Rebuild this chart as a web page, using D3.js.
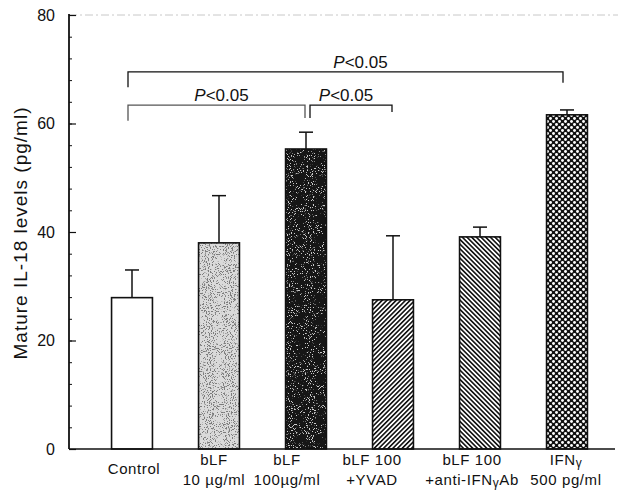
<!DOCTYPE html>
<html>
<head>
<meta charset="utf-8">
<script src="https://cdn.jsdelivr.net/npm/d3@7"></script>
<style>
  html, body { margin: 0; padding: 0; background: #fff; }
  svg { display: block; font-family: "Liberation Sans", Arial, Helvetica, sans-serif; }
</style>
</head>
<body>
<svg id="chart" width="626" height="493"></svg>
<script>
// ---------------- data ----------------
const categories = ["Control", "bLF10", "bLF100", "YVAD", "antiIFN", "IFN"];
const labelLine1 = ["Control", "bLF", "bLF", "bLF 100", "bLF 100", "IFNγ"];
const labelLine2 = ["", "10 µg/ml", "100µg/ml", "+YVAD", "+anti-IFNγAb", "500 pg/ml"];
const means  = [27.9, 38.0, 55.3, 27.5, 39.1, 61.6];
const errors = [5.1, 8.7, 3.1, 11.8, 1.8, 0.9];
const yTicks = [0, 20, 40, 60, 80];
const yMinorTicks = d3.range(0, 81, 4);
const comparisons = [
  { a: 0, b: 5, level: 69.5, endA: 66.7, endB: 67.5, label: "<0.05" },
  { a: 0, b: 2, level: 63.4, endA: 60.5, endB: 61.0, label: "<0.05" },
  { a: 2, b: 3, level: 63.4, endA: 61.0, endB: 62.1, label: "<0.05" }
];
const yTitle = "Mature IL-18 levels (pg/ml)";

// ---------------- layout ----------------
const fills = ["#fff", null, null, "url(#hatchFwd)", "url(#hatchBack)", "url(#checker)"];
const labelDx = [2, -5, -19, -21, -8, -1];
const bracketDx = [[-4, -4], [-4, -1], [4, -1]];
const labelShift = [15, 5, -5];
const xFont = 15;

const svg = d3.select("#chart");
const x = d3.scaleBand().domain(categories).range([88.5, 610.5]).paddingInner(0.53).paddingOuter(0.265);
const y = d3.scaleLinear().domain([0, 80]).range([449, 15]);
const cx = i => x(categories[i]) + x.bandwidth() / 2;

// ---------------- patterns ----------------
const defs = svg.append("defs");
function noiseFilter(id, seed, freq, slope, offset, color) {
  const f = defs.append("filter").attr("id", id)
    .attr("x", 0).attr("y", 0).attr("width", 1).attr("height", 1)
    .attr("filterUnits", "objectBoundingBox");
  f.append("feTurbulence").attr("type", "fractalNoise").attr("baseFrequency", freq)
    .attr("numOctaves", 2).attr("seed", seed).attr("result", "n");
  const c = d3.color(color);
  f.append("feColorMatrix").attr("in", "n").attr("type", "matrix")
    .attr("values", `0 0 0 0 ${c.r/255} 0 0 0 0 ${c.g/255} 0 0 0 0 ${c.b/255} ${slope} 0 0 0 ${offset}`)
    .attr("result", "dots");
  f.append("feComposite").attr("in", "dots").attr("in2", "SourceGraphic").attr("operator", "in");
}
noiseFilter("noiseLight", 4, 0.95, 14, -7.9, "#333");
noiseFilter("noiseDark", 7, 0.95, 14, -8.6, "#999");

const hf = defs.append("pattern").attr("id", "hatchFwd").attr("patternUnits", "userSpaceOnUse")
  .attr("width", 3.3).attr("height", 10).attr("patternTransform", "rotate(45)");
hf.append("rect").attr("width", 3.3).attr("height", 10).attr("fill", "#fff");
hf.append("rect").attr("width", 1.6).attr("height", 10).attr("fill", "#111");
const hb = defs.append("pattern").attr("id", "hatchBack").attr("patternUnits", "userSpaceOnUse")
  .attr("width", 3.3).attr("height", 10).attr("patternTransform", "rotate(-45)");
hb.append("rect").attr("width", 3.3).attr("height", 10).attr("fill", "#fff");
hb.append("rect").attr("width", 1.6).attr("height", 10).attr("fill", "#111");
const ck = defs.append("pattern").attr("id", "checker").attr("patternUnits", "userSpaceOnUse")
  .attr("width", 6).attr("height", 6);
ck.append("rect").attr("width", 6).attr("height", 6).attr("fill", "#111");
ck.append("circle").attr("cx", 1.5).attr("cy", 1.5).attr("r", 1.45).attr("fill", "#fff");
ck.append("circle").attr("cx", 4.5).attr("cy", 4.5).attr("r", 1.45).attr("fill", "#fff");

// ---------------- frame ----------------
svg.append("line").attr("x1", 69).attr("x2", 618).attr("y1", y(80)).attr("y2", y(80))
  .attr("stroke", "#c8c8c8").attr("stroke-width", 1).attr("stroke-dasharray", "8,3,2,3");

// ---------------- bars ----------------
const g = svg.append("g");
means.forEach((m, i) => {
  const x0 = x(categories[i]), w = x.bandwidth();
  const h = y(0) - y(m);
  if (i === 1 || i === 2) {
    g.append("rect").attr("x", x0).attr("y", y(m)).attr("width", w).attr("height", h)
      .attr("fill", i === 1 ? "#dadada" : "#161616");
    g.append("rect").attr("x", x0).attr("y", y(m)).attr("width", w).attr("height", h)
      .attr("fill", "#fff").attr("filter", i === 1 ? "url(#noiseLight)" : "url(#noiseDark)");
  } else {
    g.append("rect").attr("x", x0).attr("y", y(m)).attr("width", w).attr("height", h).attr("fill", fills[i]);
  }
  g.append("rect").attr("x", x0).attr("y", y(m)).attr("width", w).attr("height", h)
    .attr("fill", "none").attr("stroke", "#111").attr("stroke-width", 1.6);
  const c = cx(i);
  g.append("line").attr("x1", c).attr("x2", c).attr("y1", y(m)).attr("y2", y(m + errors[i]))
    .attr("stroke", "#111").attr("stroke-width", 1.5);
  g.append("line").attr("x1", c - 7).attr("x2", c + 7).attr("y1", y(m + errors[i])).attr("y2", y(m + errors[i]))
    .attr("stroke", "#111").attr("stroke-width", 1.5);
});

// ---------------- axes ----------------
const yAxis = svg.append("g").attr("transform", "translate(69,0)")
  .call(d3.axisRight(y).tickValues(yMinorTicks).tickSize(3).tickFormat(""));
yAxis.select(".domain").remove();
yAxis.selectAll("line").attr("stroke", "#111").attr("stroke-width", 1);
const yMajor = svg.append("g").attr("transform", "translate(69,0)")
  .call(d3.axisRight(y).tickValues(yTicks).tickSize(7).tickFormat(""));
yMajor.select(".domain").remove();
yMajor.selectAll("line").attr("stroke", "#111").attr("stroke-width", 1.2);
svg.append("line").attr("x1", 69).attr("x2", 69).attr("y1", y(80) - 1).attr("y2", y(0))
  .attr("stroke", "#111").attr("stroke-width", 1.8);
svg.append("line").attr("x1", 69).attr("x2", 615).attr("y1", y(0)).attr("y2", y(0))
  .attr("stroke", "#111").attr("stroke-width", 1.3);

svg.append("g").selectAll("text").data(yTicks).join("text")
  .attr("x", 55).attr("y", d => y(d)).attr("dy", "0.36em").attr("text-anchor", "end")
  .attr("font-size", 16).attr("fill", "#111").text(d => d);

svg.append("text").attr("transform", `translate(27,${233}) rotate(-90)`)
  .attr("text-anchor", "middle").attr("font-size", 19).attr("letter-spacing", 1)
  .attr("fill", "#111").text(yTitle);

// x labels (gamma set smaller and slightly lowered)
function addLabel(sel, str, fs) {
  const parts = str.split("γ");
  parts.forEach((p, k) => {
    if (p) {
      const t = sel.append("tspan").text(p);
      if (k > 0) t.attr("dy", -2);
    }
    if (k < parts.length - 1) sel.append("tspan").attr("font-size", fs * 0.8).attr("dy", 2).text("γ");
  });
}
categories.forEach((c, i) => {
  const xc = cx(i) + labelDx[i];
  const lines = labelLine2[i] === "" ? [[labelLine1[i], 474]] : [[labelLine1[i], 465], [labelLine2[i], 485]];
  lines.forEach(([str, yy]) => {
    const t = svg.append("text").attr("x", xc).attr("y", yy).attr("text-anchor", "middle")
      .attr("font-size", xFont).attr("letter-spacing", 0.6).attr("fill", "#111");
    addLabel(t, str, xFont);
  });
});

// ---------------- significance brackets ----------------
comparisons.forEach((cmp, k) => {
  const xa = cx(cmp.a) + bracketDx[k][0], xb = cx(cmp.b) + bracketDx[k][1];
  const col = k === 1 ? "#555" : "#111";
  svg.append("path")
    .attr("d", `M${xa},${y(cmp.endA)}V${y(cmp.level)}H${xb}V${y(cmp.endB)}`)
    .attr("fill", "none").attr("stroke", col).attr("stroke-width", 1.3);
  const t = svg.append("text").attr("x", (xa + xb) / 2 + labelShift[k]).attr("y", y(cmp.level) - 4)
    .attr("text-anchor", "middle").attr("font-size", 17).attr("fill", "#111");
  t.append("tspan").attr("font-style", "italic").text("P");
  t.append("tspan").text(cmp.label);
});
</script>
</body>
</html>
